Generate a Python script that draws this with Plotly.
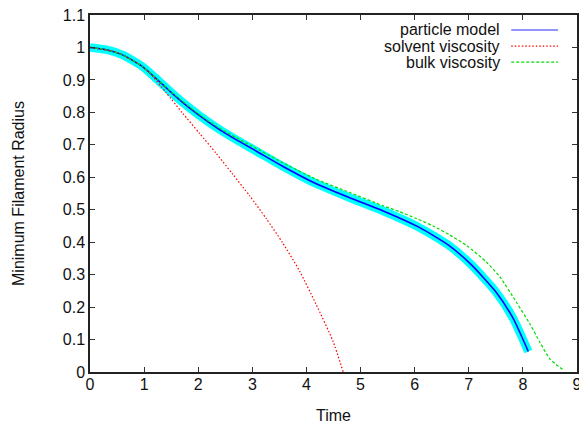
import plotly.graph_objects as go

# ---- data ----
particle_t = [0, 0.3, 0.6, 0.97, 1.25, 1.53, 1.71, 2.0, 2.33, 2.7, 3.07, 3.56, 4.18,
              4.8, 5.42, 6.03, 6.34, 6.65, 7.05, 7.51, 7.82, 8.1]
particle_r = [1.0, 0.993, 0.977, 0.941, 0.9, 0.857, 0.831, 0.793, 0.754, 0.716, 0.681,
              0.634, 0.58, 0.537, 0.496, 0.45, 0.421, 0.388, 0.33, 0.245, 0.165, 0.063]

solvent_t = [0, 0.5, 0.97, 1.1, 1.4, 1.71, 2.02, 2.33, 2.64, 2.95, 3.26, 3.56, 3.87,
             4.18, 4.49, 4.68]
solvent_r = [1.0, 0.985, 0.941, 0.922, 0.862, 0.798, 0.736, 0.674, 0.609, 0.543, 0.472,
             0.398, 0.312, 0.208, 0.095, 0.0]

bulk_t = [0, 0.3, 0.6, 0.97, 1.25, 1.53, 1.71, 2.0, 2.33, 2.7, 2.95, 3.56, 4.18, 4.8,
          5.42, 5.72, 6.03, 6.34, 6.65, 6.96, 7.33, 7.58, 7.88, 8.13, 8.32, 8.5, 8.75]
bulk_r = [1.0, 0.993, 0.977, 0.941, 0.901, 0.859, 0.834, 0.796, 0.758, 0.722, 0.70,
          0.645, 0.594, 0.553, 0.512, 0.494, 0.473, 0.45, 0.422, 0.39, 0.338, 0.292,
          0.215, 0.148, 0.09, 0.04, 0.006]

x_ticks = list(range(0, 10))
y_ticks = [round(0.1 * i, 1) for i in range(0, 12)]
y_tick_text = ["0", "0.1", "0.2", "0.3", "0.4", "0.5", "0.6", "0.7", "0.8", "0.9", "1", "1.1"]

legend_names = ["particle model", "solvent viscosity", "bulk viscosity"]
legend_colors = ["#0000ff", "#ff0000", "#00dd00"]
legend_dash = ["solid", "1.5px,2px", "3px,2px"]

FONT = "Liberation Sans, Arial, sans-serif"

fig = go.Figure()

smooth = dict(shape="spline", smoothing=0.6)

# cyan band under the particle model
fig.add_trace(go.Scatter(x=particle_t, y=particle_r, mode="lines",
                         line=dict(color="#00ffff", width=8.5, **smooth), showlegend=False,
                         hoverinfo="skip"))
fig.add_trace(go.Scatter(x=particle_t, y=particle_r, mode="lines", name=legend_names[0],
                         line=dict(color=legend_colors[0], width=1.5, **smooth),
                         showlegend=False))
fig.add_trace(go.Scatter(x=solvent_t, y=solvent_r, mode="lines", name=legend_names[1],
                         line=dict(color=legend_colors[1], width=1.2, dash=legend_dash[1],
                                   **smooth),
                         showlegend=False))
fig.add_trace(go.Scatter(x=bulk_t, y=bulk_r, mode="lines", name=legend_names[2],
                         line=dict(color=legend_colors[2], width=1.2, dash=legend_dash[2],
                                   **smooth),
                         showlegend=False))

# custom gnuplot-style legend (text right aligned, sample line to the right)
leg_y = [0.958, 0.913, 0.868]
shapes = []
annotations = []
for name, col, dsh, yy in zip(legend_names, legend_colors, legend_dash, leg_y):
    annotations.append(dict(xref="paper", yref="paper", x=0.845, y=yy, text=name,
                            showarrow=False, xanchor="right", yanchor="middle",
                            font=dict(family=FONT, size=16, color="#111111")))
    shapes.append(dict(type="line", xref="paper", yref="paper", x0=0.865, x1=0.961,
                       y0=yy, y1=yy,
                       line=dict(color=col if col != "#0000ff" else "#6f6fff",
                                 width=1.5 if dsh == "solid" else 1.2, dash=dsh)))

fig.update_layout(
    width=579, height=424,
    margin=dict(l=90, r=2, t=15, b=52, autoexpand=False),
    paper_bgcolor="white", plot_bgcolor="white",
    font=dict(family=FONT, size=16, color="#111111"),
    shapes=shapes, annotations=annotations,
    showlegend=False,
)
fig.update_xaxes(range=[0, 9], tickvals=x_ticks, ticks="inside", ticklen=5,
                 tickcolor="#333333", showline=True, linecolor="#222222", linewidth=1.5,
                 mirror="allticks", showgrid=False, zeroline=False, automargin=False,
                 ticklabeloverflow="allow", ticklabelstandoff=-3,
                 title=dict(text="Time", font=dict(size=16), standoff=18),
                 tickfont=dict(size=16))
fig.update_yaxes(range=[0, 1.1], tickvals=y_ticks, ticktext=y_tick_text, ticks="inside",
                 ticklen=5, tickcolor="#333333", showline=True, linecolor="#222222",
                 linewidth=1.5, mirror="allticks", showgrid=False, zeroline=False,
                 automargin=False,
                 title=dict(text="Minimum Filament Radius", font=dict(size=16), standoff=34),
                 tickfont=dict(size=16))

fig.write_html("out.html", config={"displayModeBar": False},
               post_script="document.body.style.margin='0px';document.body.style.overflow='hidden';")
